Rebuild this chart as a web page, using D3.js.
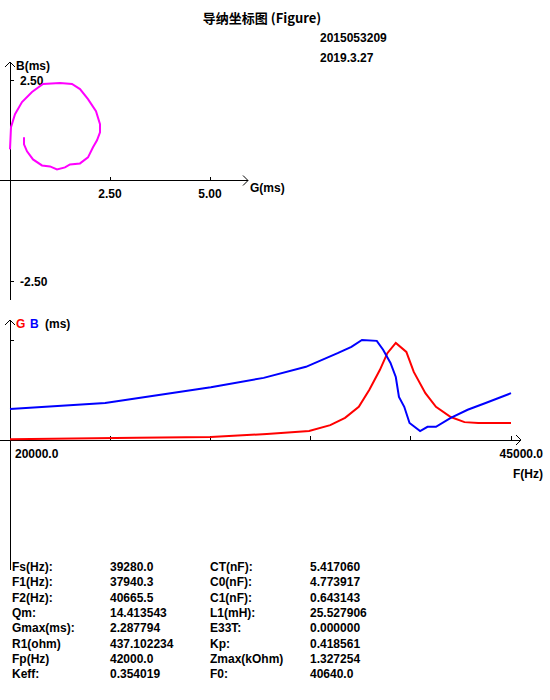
<!DOCTYPE html>
<html><head><meta charset="utf-8">
<script src="https://cdn.jsdelivr.net/npm/d3@7"></script>
<style>body{margin:0;background:#fff}text{font-family:"Liberation Sans",Arial,sans-serif;font-size:12px;font-weight:bold}</style>
</head><body><svg id="c" width="550" height="700"></svg>
<script>
const circleG=[0,0.025,0.125,0.3,0.55,0.825,1.25,1.55,1.75,1.95,2.15,2.25,2.25,2.175,2.075,1.95,1.75,1.5,1.375,1.175,1.0,0.8,0.575,0.425,0.35,0.35];
const circleB=[0.775,1.325,1.65,1.95,2.2,2.4,2.425,2.4,2.275,2.025,1.725,1.4,1.2,1.0,0.825,0.575,0.425,0.4,0.325,0.275,0.35,0.375,0.525,0.725,0.9,1.075];
const bFreq=[20000,24747,30021,32658,34768,36350,37036,37563,38302,38618,38987,39251,39409,39673,39937,40464,40833,41255,41994,42837,43734,45000];
const bVal=[0.73,0.87,1.24,1.46,1.72,2.04,2.19,2.35,2.33,2.12,1.81,1.48,1.01,0.78,0.40,0.21,0.31,0.31,0.52,0.71,0.87,1.10];
const gFreq=[20000,26329,30021,32816,34926,35981,36719,37405,37932,38460,38829,39251,39778,40148,40728,41255,41994,42680,43365,45000];
const gVal=[0.02,0.05,0.07,0.14,0.21,0.35,0.52,0.78,1.18,1.65,2.04,2.28,2.07,1.60,1.10,0.78,0.54,0.42,0.40,0.40];
const topTicksX=[2.5,5.0];
const topTicksY=[2.5,-2.5];
const freqTicks=[20000,25000,30000,35000,40000,45000];
const paramL=["Fs(Hz):","F1(Hz):","F2(Hz):","Qm:","Gmax(ms):","R1(ohm)","Fp(Hz)","Keff:"];
const paramLV=["39280.0","37940.3","40665.5","14.413543","2.287794","437.102234","42000.0","0.354019"];
const paramR=["CT(nF):","C0(nF):","C1(nF):","L1(mH):","E33T:","Kp:","Zmax(kOhm)","F0:"];
const paramRV=["5.417060","4.773917","0.643143","25.527906","0.000000","0.418561","1.327254","40640.0"];

const svg=d3.select("#c");
const ax="#000";
function line(x1,y1,x2,y2,c){svg.append("line").attr("x1",x1).attr("y1",y1).attr("x2",x2).attr("y2",y2).attr("stroke",c||ax).attr("stroke-width",1).attr("shape-rendering","crispEdges");}
function txt(x,y,s,opt){const t=svg.append("text").attr("x",x).attr("y",y).text(s);if(opt&&opt.anchor)t.attr("text-anchor",opt.anchor);if(opt&&opt.fill)t.attr("fill",opt.fill);if(opt&&opt.font)t.style("font-family",opt.font);return t;}

txt(262,23,"导纳坐标图  (Figure)",{anchor:"middle",font:"'Noto Sans CJK SC',sans-serif"}).style("font-size","13px");
txt(320,42,"2015053209");
txt(320,62,"2019.3.27");

// top chart
const x1=d3.scaleLinear().domain([0,5]).range([10,210]);
const y1=d3.scaleLinear().domain([-2.5,2.5]).range([281,80]);
line(x1(0),62,x1(0),300);
line(0,y1(0),248,y1(0));
svg.append("path").attr("d",`M${x1(0)-5},67L${x1(0)},62L${x1(0)+5},67`).attr("fill","none").attr("stroke",ax);
svg.append("path").attr("d",`M243,${y1(0)-5}L248,${y1(0)}L243,${y1(0)+5}`).attr("fill","none").attr("stroke",ax);
topTicksX.forEach(v=>{line(x1(v),y1(0)-4,x1(v),y1(0));txt(x1(v),y1(0)+17,v.toFixed(2),{anchor:"middle"});});
topTicksY.forEach(v=>{line(x1(0),y1(v),x1(0)+4,y1(v));txt(x1(0)+10,y1(v)+5,v.toFixed(2));});
txt(16,70,"B(ms)");
txt(250,192,"G(ms)");
svg.append("path").datum(d3.range(circleG.length)).attr("fill","none").attr("stroke","#ff00ff").attr("stroke-width",2)
 .attr("d",d3.line().x(i=>x1(circleG[i])).y(i=>y1(circleB[i])));

// bottom chart
const x2=d3.scaleLinear().domain([20000,45000]).range([10,511]);
const y2=d3.scaleLinear().domain([0,2.35]).range([440,340]);
line(10,320,10,570);
line(0,440,521,440);
svg.append("path").attr("d",`M5,325L10,320L15,325`).attr("fill","none").attr("stroke",ax);
svg.append("path").attr("d",`M516,435L521,440L516,445`).attr("fill","none").attr("stroke",ax);
freqTicks.forEach(v=>line(x2(v),436,x2(v),440));
line(10,y2(2.35),14,y2(2.35));
txt(15,458,"20000.0");
txt(543,458,"45000.0",{anchor:"end"});
txt(543,478,"F(Hz)",{anchor:"end"});
txt(16,328,"G",{fill:"#ff0000"});txt(30,328,"B",{fill:"#0000ff"});txt(45,328,"(ms)");
const l2=d3.line().x(d=>x2(d[0])).y(d=>y2(d[1]));
svg.append("path").datum(gFreq.map((f,i)=>[f,gVal[i]])).attr("fill","none").attr("stroke","#ff0000").attr("stroke-width",2).attr("d",l2);
svg.append("path").datum(bFreq.map((f,i)=>[f,bVal[i]])).attr("fill","none").attr("stroke","#0000ff").attr("stroke-width",2).attr("d",l2);

// params
paramL.forEach((s,i)=>{const y=571+i*15.3;txt(12,y,s);txt(110,y,paramLV[i]);txt(210,y,paramR[i]);txt(310,y,paramRV[i]);});
</script></body></html>
